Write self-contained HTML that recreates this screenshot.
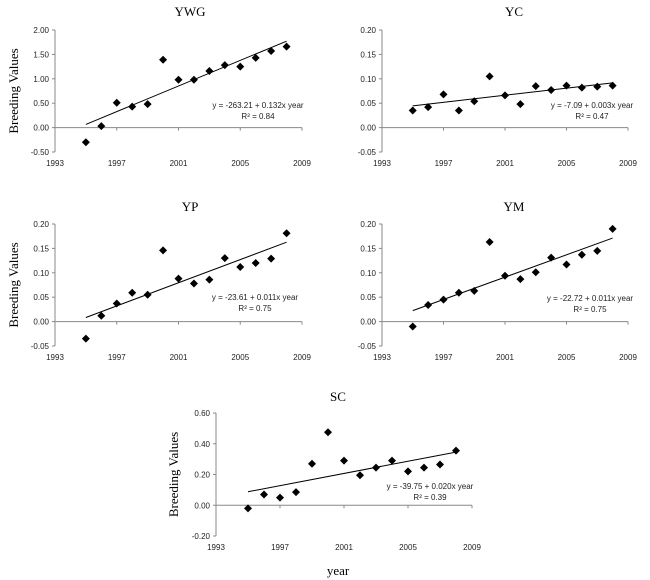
<!DOCTYPE html>
<html><head><meta charset="utf-8"><style>
html,body{margin:0;padding:0;background:#fff;}
svg{display:block;}
.tick{font-family:"Liberation Sans",sans-serif;font-size:8px;fill:#222;}
.title{font-family:"Liberation Serif",serif;font-size:13px;fill:#000;}
.ylab{font-family:"Liberation Serif",serif;font-size:13px;fill:#000;}
.eq{font-family:"Liberation Sans",sans-serif;font-size:8px;fill:#222;}
</style></head><body>
<svg id="chart" width="650" height="580" viewBox="0 0 650 580" xmlns="http://www.w3.org/2000/svg"></svg>
<script>
const years = [1995,1996,1997,1998,1999,2000,2001,2002,2003,2004,2005,2006,2007,2008];
const xTicks = [1993,1997,2001,2005,2009];
const ywgValues = [-0.30,0.03,0.51,0.43,0.48,1.39,0.98,0.98,1.16,1.28,1.25,1.43,1.57,1.66];
const ywgTicks = [-0.5,0,0.5,1.0,1.5,2.0];
const ycValues = [0.035,0.042,0.068,0.035,0.054,0.105,0.066,0.048,0.085,0.077,0.086,0.082,0.084,0.086];
const ycTicks = [-0.05,0,0.05,0.10,0.15,0.20];
const ypValues = [-0.035,0.012,0.037,0.059,0.055,0.146,0.088,0.078,0.086,0.130,0.112,0.120,0.129,0.181];
const ypTicks = [-0.05,0,0.05,0.10,0.15,0.20];
const ymValues = [-0.010,0.034,0.045,0.059,0.063,0.163,0.094,0.087,0.101,0.131,0.117,0.137,0.145,0.190];
const ymTicks = [-0.05,0,0.05,0.10,0.15,0.20];
const scValues = [-0.02,0.07,0.05,0.085,0.27,0.475,0.29,0.195,0.245,0.29,0.22,0.245,0.265,0.355];
const scTicks = [-0.2,0,0.2,0.4,0.6];
const titles = ["YWG","YC","YP","YM","SC"];
const equations = ["y = -263.21 + 0.132x year","y = -7.09 + 0.003x year","y = -23.61 + 0.011x year","y = -22.72 + 0.011x year","y = -39.75 + 0.020x year"];
const r2Labels = ["R² = 0.84","R² = 0.47","R² = 0.75","R² = 0.75","R² = 0.39"];

const NS="http://www.w3.org/2000/svg";
const svg=document.getElementById('chart');
function mk(tag,attrs,parent){const e=document.createElementNS(NS,tag);for(const k in attrs)e.setAttribute(k,attrs[k]);(parent||svg).appendChild(e);return e;}

const panels=[
 {id:'ywg',vals:ywgValues,ticks:ywgTicks,x0:55,x1:302,yTop:30,yBot:152,tx:190,ty:16,ylab:true,ylx:18,eqx:258,eqy:108,dec:2},
 {id:'yc',vals:ycValues,ticks:ycTicks,x0:382,x1:628,yTop:30,yBot:152,tx:514,ty:16,ylab:false,eqx:592,eqy:108,dec:2},
 {id:'yp',vals:ypValues,ticks:ypTicks,x0:55,x1:302,yTop:224,yBot:346,tx:190,ty:211,ylab:true,ylx:18,eqx:255,eqy:300,dec:2},
 {id:'ym',vals:ymValues,ticks:ymTicks,x0:382,x1:628,yTop:224,yBot:346,tx:514,ty:211,ylab:false,eqx:590,eqy:301,dec:2},
 {id:'sc',vals:scValues,ticks:scTicks,x0:216,x1:472,yTop:413,yBot:536,tx:338,ty:401,ylab:true,ylx:178,eqx:430,eqy:489,dec:2}
];

panels.forEach((p,i)=>{
  const g=mk('g',{});
  
  
  const tMin=p.ticks[0],tMax=p.ticks[p.ticks.length-1];
  const xs=v=>p.x0+(v-xTicks[0])/(xTicks[xTicks.length-1]-xTicks[0])*(p.x1-p.x0);
  const ys=v=>p.yBot-(v-tMin)/(tMax-tMin)*(p.yBot-p.yTop);
  const t=mk('text',{x:p.tx,y:p.ty,'text-anchor':'middle',class:'title'},g);t.textContent=titles[i];
  
  
  // y axis
  const ya=mk('line',{x1:p.x0,y1:p.yTop,x2:p.x0,y2:p.yBot,stroke:'#888','stroke-width':1},g);
  
  
  p.ticks.forEach(v=>{
    const y=ys(v);
    mk('line',{x1:p.x0-3,y1:y,x2:p.x0,y2:y,stroke:'#888'},g);
    const tl=mk('text',{x:p.x0-6,y:y+3,'text-anchor':'end',class:'tick'},g);
    tl.textContent=v.toFixed(p.dec);
    
    
  });
  // x axis at zero
  const y0=ys(0);
  const xa=mk('line',{x1:p.x0,y1:y0,x2:p.x1,y2:y0,stroke:'#888','stroke-width':1},g);
  
  
  xTicks.forEach(v=>{
    const x=xs(v);
    mk('line',{x1:x,y1:y0,x2:x,y2:y0+3,stroke:'#888'},g);
    const tl=mk('text',{x:x,y:p.yBot+14,'text-anchor':'middle',class:'tick'},g);
    tl.textContent=v;
    
    
  });
  if(p.ylab){
    const yl=mk('text',{x:p.ylx,y:(p.yTop+p.yBot)/2,'text-anchor':'middle',class:'ylab',transform:`rotate(-90 ${p.ylx} ${(p.yTop+p.yBot)/2})`},g);
    yl.textContent='Breeding Values';
    
    
  }
  // regression
  const n=years.length;let mx=0,my=0;
  years.forEach((yr,k)=>{mx+=yr;my+=p.vals[k];});mx/=n;my/=n;
  let sxy=0,sxx=0;years.forEach((yr,k)=>{sxy+=(yr-mx)*(p.vals[k]-my);sxx+=(yr-mx)*(yr-mx);});
  const b=sxy/sxx,a=my-b*mx;
  const fl=mk('line',{x1:xs(years[0]),y1:ys(a+b*years[0]),x2:xs(years[n-1]),y2:ys(a+b*years[n-1]),stroke:'#000','stroke-width':1},g);
  
  
  years.forEach((yr,k)=>{
    const cx=xs(yr),cy=ys(p.vals[k]),r=4;
    const d=mk('polygon',{points:`${cx},${cy-r} ${cx+r},${cy} ${cx},${cy+r} ${cx-r},${cy}`,fill:'#000'},g);
    
    
  });
  const e1=mk('text',{x:p.eqx,y:p.eqy,'text-anchor':'middle',class:'eq'},g);e1.textContent=equations[i];
  
  
  const e2=mk('text',{x:p.eqx,y:p.eqy+11,'text-anchor':'middle',class:'eq'},g);e2.textContent=r2Labels[i];
  
  
});
const xt=mk('text',{x:338,y:575,'text-anchor':'middle',class:'ylab'});
xt.textContent='year';


</script>
</body></html>
